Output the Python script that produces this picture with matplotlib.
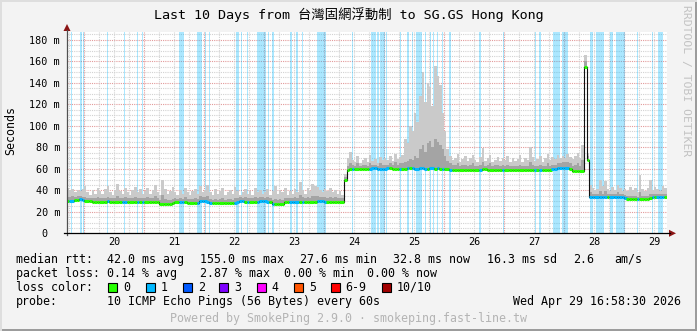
import numpy as np
import matplotlib
matplotlib.use("Agg")
import matplotlib.pyplot as plt
from matplotlib.patches import Rectangle, Polygon
from matplotlib.lines import Line2D

W, H = 697, 331

# hourly samples (ms), first bin = Apr 19 17:00
start_day = 19 + 17 / 24
median = (
    [30.5, 30.5, 30.5, 31.0, 31.0, 32.0, 31.0]
    + [30.5, 30.0, 30.0, 29.5, 29.5, 29.5, 29.5, 29.5, 29.5, 30.0, 29.5, 29.5,
       29.5, 29.5, 29.5, 29.5, 29.5, 29.5, 29.5, 29.5, 29.5, 29.5, 29.5, 29.5]
    + [29.5, 29.5, 29.5, 29.5, 29.5, 29.5, 27.5, 27.5, 27.5, 27.5, 27.5, 28.0,
       29.0, 29.0, 29.0, 29.0, 29.0, 28.5, 28.5, 28.5, 28.5, 28.5, 30.0, 30.5]
    + [30.0, 29.5, 27.8, 27.8, 27.8, 27.8, 27.8, 27.8, 27.8, 27.8, 27.8, 27.8,
       28.5, 29.5, 30.0, 30.0, 29.5, 29.5, 29.5, 29.5, 29.5, 29.5, 30.0, 30.0]
    + [30.0, 29.5, 29.5, 27.5, 27.5, 27.5, 27.5, 27.5, 29.0, 29.5, 29.5, 29.5,
       29.5, 29.5, 29.5, 29.5, 29.5, 29.5, 29.5, 29.5, 29.5, 30.0, 30.5, 30.0]
    + [29.5, 29.5, 29.5, 29.5, 29.5, 29.5, 29.5, 29.5, 50.0, 59.0, 59.5, 59.5,
       60.0, 60.0, 60.0, 59.5, 59.5, 60.0, 60.0, 60.5, 60.5, 60.0, 60.0, 60.0]
    + [60.0, 60.5, 60.5, 60.0, 60.0, 60.0, 59.5, 59.5, 60.0, 60.5, 60.5, 60.5,
       60.0, 60.0, 60.5, 60.5, 60.0, 60.0, 60.5, 60.5, 60.0, 60.5, 60.0, 59.5]
    + [59.5, 59.5, 59.0, 59.0, 59.0, 59.0, 59.0, 59.0, 59.0, 59.0, 59.0, 59.0,
       59.0, 59.0, 59.0, 59.5, 59.5, 59.0, 59.0, 59.0, 59.0, 59.0, 59.0, 59.0]
    + [59.0, 59.0, 58.5, 58.5, 58.5, 58.5, 58.5, 58.5, 58.5, 58.5, 58.5, 59.0,
       59.0, 59.0, 59.0, 59.0, 59.0, 59.0, 59.0, 59.5, 60.0, 60.5, 60.5, 61.0]
    + [61.0, 60.5, 59.5, 58.0, 57.8, 57.8, 57.8, 58.0, 155.0, 68.0, 34.0, 33.5,
       33.5, 33.5, 33.5, 33.5, 33.5, 33.5, 33.5, 33.5, 33.5, 33.5, 33.5, 33.5]
    + [33.0, 32.0, 31.6, 31.6, 31.6, 31.6, 31.6, 31.6, 31.6, 32.0, 33.0, 33.5,
       33.5, 33.5, 33.5, 33.5, 33.5]
)
smoke_hi = (
    [42, 40, 41, 38, 40, 39, 41]
    + [44, 38, 36, 40, 37, 42, 39, 37, 41, 44, 38, 36, 40, 46, 39, 37, 42, 38, 36, 40, 43, 38, 41, 37]
    + [39, 42, 37, 40, 45, 38, 36, 50, 41, 37, 39, 43, 38, 36, 40, 37, 42, 38, 36, 39, 41, 37, 44, 38]
    + [40, 45, 38, 36, 41, 37, 39, 42, 36, 38, 40, 37, 43, 39, 36, 38, 41, 37, 39, 36, 42, 38, 40, 37]
    + [38, 41, 36, 39, 44, 37, 40, 38, 42, 36, 39, 37, 41, 38, 48, 40, 37, 42, 39, 46, 44, 43, 40, 38]
    + [41, 39, 42, 38, 40, 37, 39, 36, 55, 70, 76, 68, 66, 72, 65, 68, 70, 66, 73, 67, 69, 65, 71, 68]
    + [70, 68, 72, 67, 74, 69, 71, 73, 88, 84, 100, 95, 112, 104, 128, 150, 122, 140, 136, 118, 156, 146, 138, 112]
    + [95, 78, 72, 68, 70, 74, 66, 69, 72, 67, 70, 73, 68, 66, 71, 79, 67, 70, 73, 66, 68, 71, 67, 70]
    + [68, 72, 66, 70, 67, 69, 73, 66, 70, 68, 80, 71, 67, 69, 72, 66, 70, 74, 68, 71, 69, 73, 70, 72]
    + [70, 74, 71, 69, 72, 75, 70, 82, 166, 75, 45, 42, 40, 41, 50, 44, 49, 41, 39, 43, 40, 45, 42, 39]
    + [41, 39, 43, 40, 42, 38, 54, 41, 39, 42, 50, 40, 43, 41, 39, 44, 42]
)
smoke_mid = (
    [34, 34, 35, 34, 35, 35, 34]
    + [34, 33, 33, 33, 33, 34, 33, 33, 33, 34, 33, 33, 33, 35, 33, 33, 34, 33, 33, 33, 34, 33, 33, 33]
    + [33, 34, 33, 33, 35, 33, 31, 36, 32, 31, 31, 32, 33, 32, 33, 32, 34, 32, 32, 32, 33, 32, 35, 34]
    + [34, 35, 32, 31, 32, 31, 32, 33, 31, 32, 32, 31, 33, 33, 34, 33, 34, 33, 33, 33, 34, 33, 34, 34]
    + [33, 34, 33, 31, 32, 31, 32, 31, 33, 33, 33, 33, 34, 33, 36, 34, 33, 34, 33, 35, 35, 35, 34, 34]
    + [34, 33, 34, 33, 34, 33, 33, 33, 52, 63, 65, 64, 63, 65, 63, 64, 64, 63, 65, 64, 64, 63, 65, 64]
    + [64, 64, 65, 64, 66, 64, 65, 65, 66, 67, 69, 68, 72, 70, 78, 82, 76, 84, 86, 80, 88, 85, 82, 78]
    + [72, 67, 65, 64, 64, 65, 63, 64, 64, 63, 64, 65, 63, 63, 64, 66, 63, 64, 65, 63, 64, 64, 63, 64]
    + [63, 64, 63, 63, 63, 63, 64, 63, 63, 63, 66, 64, 63, 63, 64, 63, 63, 65, 63, 64, 64, 65, 65, 66]
    + [66, 66, 65, 63, 64, 65, 63, 68, 160, 72, 38, 37, 37, 37, 39, 37, 39, 37, 37, 37, 37, 38, 37, 37]
    + [36, 35, 35, 35, 35, 34, 38, 35, 35, 35, 37, 37, 37, 37, 37, 37, 37]
)

# periods with packet loss (day of month, fractional)
loss_start = [19.78, 19.94, 19.98, 20.38, 20.66, 20.88, 20.96, 21.59, 21.89, 22.01,
              22.08, 22.53, 22.61, 22.71, 22.89, 23.06, 23.14, 23.44, 23.54, 23.63,
              23.89, 24.46, 24.79, 24.89, 24.94, 25.03, 25.26, 25.39, 25.46, 25.54,
              25.68, 25.76, 25.81, 25.88, 25.96, 26.09, 26.59, 26.98, 27.51, 27.59,
              27.82, 27.97, 28.43, 28.53, 28.76, 28.86, 29.21, 29.46, 29.56]
loss_end = [19.80, 19.96, 20.00, 20.40, 20.68, 20.90, 20.98, 21.66, 21.96, 22.03,
            22.10, 22.59, 22.63, 22.73, 23.03, 23.08, 23.16, 23.46, 23.56, 23.65,
            24.03, 24.48, 24.86, 24.91, 25.01, 25.05, 25.28, 25.41, 25.48, 25.64,
            25.70, 25.78, 25.83, 25.90, 25.98, 26.11, 26.61, 27.00, 27.53, 27.61,
            27.94, 28.07, 28.49, 28.67, 28.82, 29.02, 29.23, 29.48, 29.65]

day_ticks = [20, 21, 22, 23, 24, 25, 26, 27, 28, 29]
y_ticks = [0, 20, 40, 60, 80, 100, 120, 140, 160, 180]
y_labels = ['0  ', '20 m', '40 m', '60 m', '80 m', '100 m', '120 m', '140 m', '160 m', '180 m']

loss_names = ['0', '1', '2', '3', '4', '5', '6-9', '10/10']
loss_colors = ['#26ff00', '#00b8ff', '#0059ff', '#7e00ff', '#ff00ff', '#ff5500', '#ff0000', '#a10000']

mono = ['DejaVu Sans Mono', 'Noto Sans CJK TC']


def fx(x):
    return x / W


def fy(y):
    return 1 - y / H


fig = plt.figure(figsize=(W / 100, H / 100), dpi=100, facecolor='#f3f3f3')
ax = fig.add_axes([fx(67), fy(233.3), 600 / W, 201 / H])
ax.set_facecolor('white')
t0, t1 = 19 + 17.2 / 24, 29 + 17.2 / 24
ax.set_xlim(t0, t1)
ax.set_ylim(0, 187)

# grid
dot = (0, (1, 1))
for v in np.arange(5, 187, 5):
    major = v % 20 == 0
    ax.axhline(v, color='#e29a9a' if major else '#d2d2d2', lw=0.8, ls=dot, zorder=1)
for d in np.arange(19.75, 29.75, 0.25):
    major = d == int(d)
    ax.axvline(d, color='#e29a9a' if major else '#d2d2d2', lw=0.8, ls=dot, zorder=1)

# loss bars
for a, b in zip(loss_start, loss_end):
    ax.axvspan(a, b, color='#00b8ff', alpha=0.33, lw=0, zorder=2)

t = start_day + np.arange(len(median)) / 24
edges = np.append(t, t[-1] + 1 / 24)
med = np.array(median, dtype=float)
hi = np.array(smoke_hi, dtype=float)
mid = np.array(smoke_mid, dtype=float)

ax.fill_between(edges, np.append(med, med[-1]) - 1, np.append(hi, hi[-1]),
                step='post', color='#cacaca', lw=0, zorder=3)
ax.fill_between(edges, np.append(med, med[-1]) - 1, np.append(mid, mid[-1]),
                step='post', color='#a4a4a4', lw=0, zorder=4)

ax.step(edges, np.append(med, med[-1]), where='post', color='#101010', lw=0.8, zorder=5)

cols = []
for ti in t:
    lost = any(a < ti + 1 / 24 and b > ti for a, b in zip(loss_start, loss_end))
    cols.append(loss_colors[1] if lost else loss_colors[0])
ax.hlines(med, t, t + 1 / 24, colors=cols, lw=2.2, zorder=6)

for s in ax.spines.values():
    s.set_visible(False)
ax.set_xticks([d + 0.5 for d in day_ticks])
ax.set_xticklabels([str(d) for d in day_ticks])
ax.set_yticks(y_ticks)
ax.set_yticklabels(y_labels)
ax.tick_params(length=0, labelsize=7.3, colors='black')
ax.tick_params(axis='y', pad=5)
ax.tick_params(axis='x', pad=3)
for lab in ax.get_xticklabels() + ax.get_yticklabels():
    lab.set_family('DejaVu Sans Mono')

# axes with arrows
fig.add_artist(Line2D([fx(67), fx(67)], [fy(235), fy(30)], color='#505050', lw=0.9))
fig.add_artist(Line2D([fx(64), fx(670)], [fy(233.3), fy(233.3)], color='black', lw=0.9))
fig.add_artist(Polygon([[fx(63.5), fy(31)], [fx(70.5), fy(31)], [fx(67), fy(24)]],
                       closed=True, color='#8b1414', lw=0))
fig.add_artist(Polygon([[fx(669), fy(229.8)], [fx(669), fy(236.8)], [fx(676), fy(233.3)]],
                       closed=True, color='#8b1414', lw=0))

# frame
fig.add_artist(Rectangle((0, 0), 1, 2 / H, transform=fig.transFigure, color='#9c9c9c', lw=0))
fig.add_artist(Rectangle((1 - 2 / W, 0), 2 / W, 1, transform=fig.transFigure, color='#9c9c9c', lw=0))
fig.add_artist(Rectangle((0, 1 - 2 / H), 1, 2 / H, transform=fig.transFigure, color='#dedede', lw=0))
fig.add_artist(Rectangle((0, 0), 2 / W, 1, transform=fig.transFigure, color='#dedede', lw=0))

fig.text(fx(348.5), fy(15), 'Last 10 Days from 台灣固網浮動制 to SG.GS Hong Kong',
         family=mono, fontsize=9.6, ha='center', va='center')
fig.text(fx(11), fy(131), 'Seconds', family=mono, fontsize=8.4, rotation=90,
         ha='center', va='center')
fig.text(fx(686), fy(81), 'RRDTOOL / TOBI OETIKER', family=mono, fontsize=8.2,
         rotation=270, ha='center', va='center', color='#c2c2c2')

rows = [
    (259.3, [(16, 'median rtt:'), (107, '42.0 ms avg'), (200, '155.0 ms max'),
             (300, '27.6 ms min'), (393, '32.8 ms now'), (487, '16.3 ms sd'),
             (573, '2.6'), (614, 'am/s')]),
    (273.3, [(16, 'packet loss:'), (107, '0.14 % avg'), (200, '2.87 % max'),
             (284, '0.00 % min'), (367, '0.00 % now')]),
    (287.3, [(16, 'loss color:')]),
    (301.3, [(16, 'probe:'), (107, '10 ICMP Echo Pings (56 Bytes) every 60s'),
             (513, 'Wed Apr 29 16:58:30 2026')]),
]
for y, parts in rows:
    for x, s in parts:
        fig.text(fx(x), fy(y), s, family=mono, fontsize=8.4, ha='left', va='center')

box_x = [108.3, 145.7, 182.7, 219.3, 256.7, 294, 330.7, 381.7]
for bx, name, c in zip(box_x, loss_names, loss_colors):
    fig.add_artist(Rectangle((fx(bx), fy(291.8)), 9 / W, 9 / H, transform=fig.transFigure,
                             facecolor=c, edgecolor='black', lw=0.8))
    fig.text(fx(bx + 15), fy(287.3), name, family=mono, fontsize=8.4, ha='left', va='center')

fig.text(fx(349), fy(318.7), 'Powered by SmokePing 2.9.0 · smokeping.fast-line.tw',
         family=mono, fontsize=8.4, ha='center', va='center', color='#b4b4b4')

fig.savefig('out.png', dpi=100, facecolor=fig.get_facecolor())
